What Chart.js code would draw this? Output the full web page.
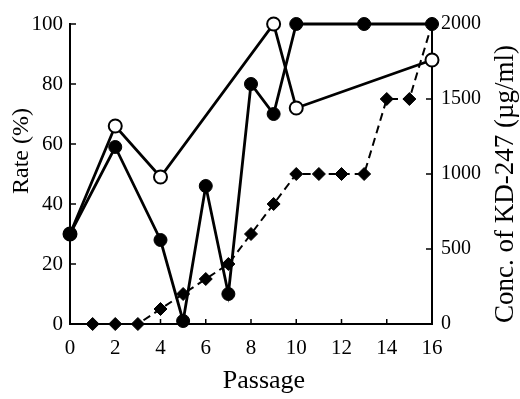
<!DOCTYPE html>
<html>
<head>
<meta charset="utf-8">
<script src="https://cdn.jsdelivr.net/npm/chart.js@4/dist/chart.umd.min.js"></script>
<style>
  html, body { margin: 0; padding: 0; background: #fff; }
  canvas { display: block; }
</style>
</head>
<body>
<canvas id="c" width="520" height="399"></canvas>
<script>
// Rate (%) measured by passage — filled circles
const filledPassage = [0, 2, 4, 5, 6, 7, 8, 9, 10, 13, 16];
const filledRate    = [30, 59, 28, 1, 46, 10, 80, 70, 100, 100, 100];

// Rate (%) measured by passage — open circles
const openPassage = [0, 2, 4, 9, 10, 16];
const openRate    = [30, 66, 49, 100, 72, 88];

// KD-247 concentration (µg/ml) used at each passage
const concPassage = [1, 2, 3, 4, 5, 6, 7, 8, 9, 10, 11, 12, 13, 14, 15, 16];
const concValue   = [0, 0, 0, 100, 200, 300, 400, 600, 800, 1000, 1000, 1000, 1000, 1500, 1500, 2000];

// Axis ranges and labels
const passageTicks = [0, 2, 4, 6, 8, 10, 12, 14, 16];
const rateTicks = [0, 20, 40, 60, 80, 100];
const concTicks = [0, 500, 1000, 1500, 2000];
const xTitle = 'Passage';
const yTitle = 'Rate (%)';
const y2Title = 'Conc. of KD-247 (\u00b5g/ml)';

const SERIF = '"Liberation Serif", "Times New Roman", serif';
const pts = (xs, ys) => xs.map((x, i) => ({ x, y: ys[i] }));
const plain = v => String(v);

// Short tick marks pointing into the plot, plus the axis titles
const axisDecor = {
  id: 'axisDecor',
  afterDraw(chart) {
    const ctx = chart.ctx;
    const { x, y, y2 } = chart.scales;
    ctx.save();
    ctx.strokeStyle = '#000';
    ctx.lineWidth = 1.5;
    ctx.beginPath();
    passageTicks.forEach(v => {
      const px = x.getPixelForValue(v);
      ctx.moveTo(px, x.top); ctx.lineTo(px, x.top - 5);
    });
    rateTicks.forEach(v => {
      const py = y.getPixelForValue(v);
      ctx.moveTo(y.right, py); ctx.lineTo(y.right + 6, py);
    });
    concTicks.forEach(v => {
      const py = y2.getPixelForValue(v);
      ctx.moveTo(y2.left, py); ctx.lineTo(y2.left - 6, py);
    });
    ctx.stroke();

    ctx.fillStyle = '#000';
    ctx.textAlign = 'center';
    ctx.textBaseline = 'alphabetic';
    ctx.font = '26px ' + SERIF;
    ctx.fillText(xTitle, 264, 388);

    ctx.textBaseline = 'middle';
    ctx.font = '24px ' + SERIF;
    ctx.save();
    ctx.translate(22, 151);
    ctx.rotate(-Math.PI / 2);
    ctx.fillText(yTitle, 0, 0);
    ctx.restore();

    ctx.font = '27px ' + SERIF;
    ctx.save();
    ctx.translate(506, 184);
    ctx.rotate(-Math.PI / 2);
    ctx.fillText(y2Title, 0, 0);
    ctx.restore();
    ctx.restore();
  }
};

const tickFont = { family: SERIF, size: 21 };

new Chart(document.getElementById('c'), {
  type: 'line',
  data: {
    datasets: [
      {
        data: pts(filledPassage, filledRate),
        yAxisID: 'y',
        borderColor: '#000',
        borderWidth: 2.8,
        pointStyle: 'circle',
        pointRadius: 6.5,
        pointBackgroundColor: '#000',
        pointBorderColor: '#000',
        pointBorderWidth: 1,
        tension: 0,
        clip: false
      },
      {
        data: pts(openPassage, openRate),
        yAxisID: 'y',
        borderColor: '#000',
        borderWidth: 2.8,
        pointStyle: 'circle',
        pointRadius: 6.5,
        pointBackgroundColor: '#fff',
        pointBorderColor: '#000',
        pointBorderWidth: 2,
        tension: 0,
        clip: false
      },
      {
        data: pts(concPassage, concValue),
        yAxisID: 'y2',
        borderColor: '#000',
        borderWidth: 2,
        borderDash: [8, 5],
        pointStyle: 'rectRot',
        pointRadius: 6.5,
        pointBackgroundColor: '#000',
        pointBorderColor: '#000',
        pointBorderWidth: 1,
        tension: 0,
        clip: false
      }
    ]
  },
  options: {
    responsive: false,
    animation: false,
    events: [],
    layout: { padding: { top: 24, left: 0, right: 0, bottom: 0 } },
    plugins: { legend: { display: false }, tooltip: { enabled: false } },
    scales: {
      x: {
        type: 'linear',
        min: 0, max: 16,
        afterFit(s) { s.height = 75; },
        afterBuildTicks(s) { s.ticks = passageTicks.map(v => ({ value: v })); },
        ticks: { font: tickFont, color: '#000', padding: 12, maxRotation: 0, callback: plain },
        grid: { display: true, drawOnChartArea: false, drawTicks: false },
        border: { display: true, color: '#000', width: 2 }
      },
      y: {
        position: 'left',
        min: 0, max: 100,
        afterFit(s) { s.width = 70; },
        afterBuildTicks(s) { s.ticks = rateTicks.map(v => ({ value: v })); },
        ticks: { font: tickFont, color: '#000', padding: 7, callback: plain },
        grid: { display: true, drawOnChartArea: false, drawTicks: false },
        border: { display: true, color: '#000', width: 2 }
      },
      y2: {
        position: 'right',
        min: 0, max: 2000,
        afterFit(s) { s.width = 88; },
        afterBuildTicks(s) { s.ticks = concTicks.map(v => ({ value: v })); },
        ticks: { font: { family: SERIF, size: 20 }, color: '#000', padding: 9, callback: plain },
        grid: { display: true, drawOnChartArea: false, drawTicks: false },
        border: { display: true, color: '#000', width: 2 }
      }
    }
  },
  plugins: [axisDecor]
});
</script>
</body>
</html>
